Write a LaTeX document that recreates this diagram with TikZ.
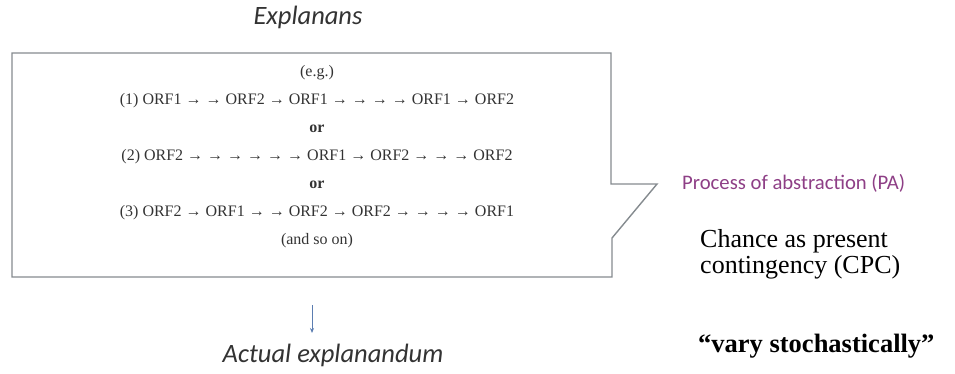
\documentclass[tikz,border=0pt]{standalone}
\usepackage{fontspec}
\setmainfont{Liberation Serif}
\newfontfamily\carl{Carlito}
\usetikzlibrary{arrows.meta}
\definecolor{boxgray}{HTML}{858B8F}
\definecolor{txtgray}{HTML}{333333}
\definecolor{palabel}{HTML}{8E3F86}
\definecolor{arrblue}{HTML}{5B7DB1}
\tikzset{
  seq/.style={font=\fontsize{16}{18}\selectfont, text=txtgray, inner sep=0pt, anchor=center},
  head/.style={font=\carl\itshape\fontsize{26.5}{30}\selectfont, text=txtgray, inner sep=0pt},
  side/.style={font=\fontsize{26}{30}\selectfont, text=black, inner sep=0pt, anchor=base west},
}
\begin{document}
\begin{tikzpicture}[x=1pt,y=-1pt]
\useasboundingbox (0,0) rectangle (955,374);
\node[head] (title) at (308,17) {Explanans};
\draw[boxgray, line width=1.4pt, line join=miter]
  (12,53) coordinate (tl) -- (611,53) -- (611,184) -- (657,184) coordinate (tip)
  -- (612,238) -- (612,277) -- (12,277) -- cycle;
\node[seq] (eg) at (317,73) {(e.g.)};
\node[seq] (l1) at (317,101) {(1) ORF1 → → ORF2 → ORF1 → → → → ORF1 → ORF2};
\node[seq,font=\bfseries\fontsize{16}{18}\selectfont] (or1) at (317,129) {or};
\node[seq] (l2) at (317,157) {(2) ORF2 → → → → → → ORF1 → ORF2 → → → ORF2};
\node[seq,font=\bfseries\fontsize{16}{18}\selectfont] (or2) at (317,185) {or};
\node[seq] (l3) at (317,213) {(3) ORF2 → ORF1 → → ORF2 → ORF2 → → → → ORF1};
\node[seq] (etc) at (317,241) {(and so on)};
\node[font=\carl\fontsize{20.7}{24}\selectfont, text=palabel, inner sep=0pt, anchor=west] (pa) at (682,183) {Process of abstraction (PA)};
\node[side] (cpc1) at (700,247) {Chance as present};
\node[side] (cpc2) at (700,273) {contingency (CPC)};
\node[side,font=\bfseries\fontsize{26.5}{30}\selectfont] (vary) at (698,352) {“vary stochastically”};
\node[head] (act) at (333,355) {Actual explanandum};
\coordinate (as) at (312,305);
\coordinate (ae) at (312,333);
\draw[arrblue, line width=0.9pt, -{Stealth[length=5pt,width=4pt]}] (as) -- (ae);
\end{tikzpicture}
\end{document}
